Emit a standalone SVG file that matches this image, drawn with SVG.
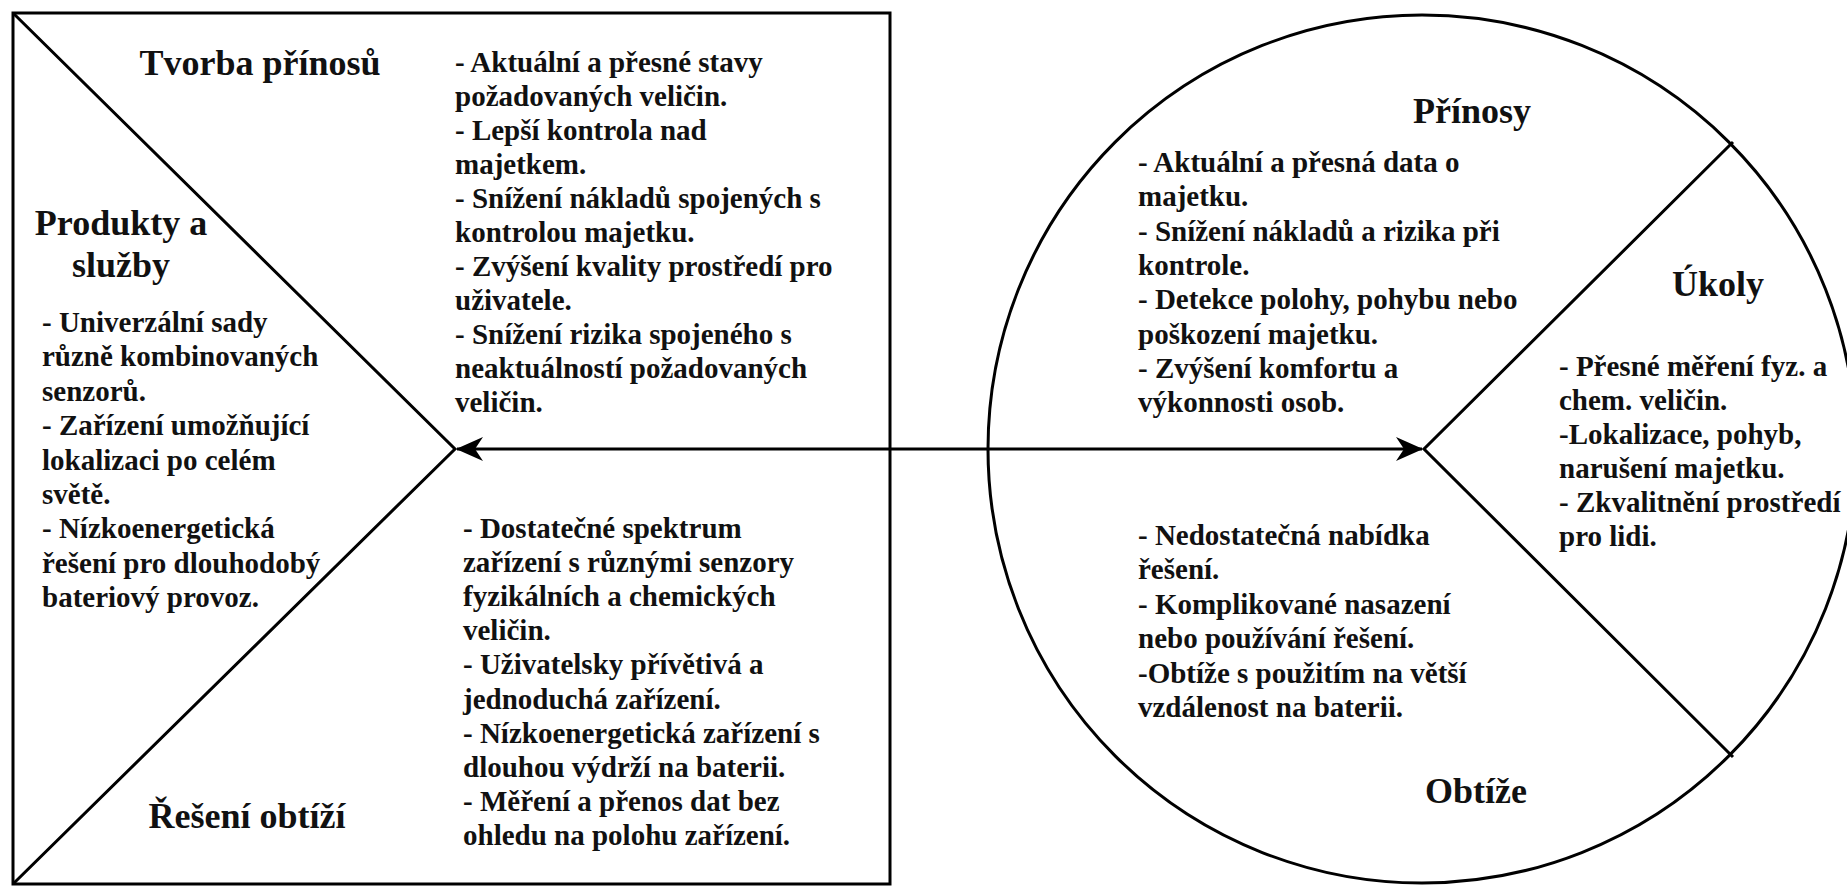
<svg xmlns="http://www.w3.org/2000/svg" width="1847" height="886" viewBox="0 0 1847 886">
  <style>
    .shape { fill: none; stroke: #000; stroke-width: 3; }
    .head { font-family: "Liberation Serif", "Times New Roman", serif; font-weight: bold; font-size: 36px; fill: #111; text-anchor: middle; }
    .body { font-family: "Liberation Serif", "Times New Roman", serif; font-weight: bold; font-size: 29px; fill: #111; }
    .link { fill: none; stroke: #000; stroke-width: 3; }
  </style>
  <defs>
    <marker id="arrow" viewBox="0 0 27 24" markerWidth="27" markerHeight="24" refX="26" refY="12" markerUnits="userSpaceOnUse" orient="auto-start-reverse">
      <path d="M0,0 L27,12 L0,24 L8,12 Z" fill="#000"/>
    </marker>
  </defs>
  <rect width="1847" height="886" fill="#fff"/>

  <!-- Value map: square with chevron -->
  <g id="value-map">
    <rect class="shape" x="13" y="13" width="877" height="871"/>
    <polyline class="shape" points="13,13 455,449 13,884"/>
    <text class="head" x="260" y="75">Tvorba přínosů</text>
    <text class="head"><tspan x="121" y="235">Produkty a</tspan><tspan x="121" y="277">služby</tspan></text>
    <text class="head" x="247" y="828">Řešení obtíží</text>
  </g>

  <g id="gain-creators">
    <text class="body">
      <tspan x="455" y="72">- Aktuální a přesné stavy</tspan>
      <tspan x="455" dy="34">požadovaných veličin.</tspan>
      <tspan x="455" dy="34">- Lepší kontrola nad</tspan>
      <tspan x="455" dy="34">majetkem.</tspan>
      <tspan x="455" dy="34">- Snížení nákladů spojených s</tspan>
      <tspan x="455" dy="34">kontrolou majetku.</tspan>
      <tspan x="455" dy="34">- Zvýšení kvality prostředí pro</tspan>
      <tspan x="455" dy="34">uživatele.</tspan>
      <tspan x="455" dy="34">- Snížení rizika spojeného s</tspan>
      <tspan x="455" dy="34">neaktuálností požadovaných</tspan>
      <tspan x="455" dy="34">veličin.</tspan>
    </text>
  </g>

  <g id="products-services">
    <text class="body">
      <tspan x="42" y="332">- Univerzální sady</tspan>
      <tspan x="42" dy="34.4">různě kombinovaných</tspan>
      <tspan x="42" dy="34.4">senzorů.</tspan>
      <tspan x="42" dy="34.4">- Zařízení umožňující</tspan>
      <tspan x="42" dy="34.4">lokalizaci po celém</tspan>
      <tspan x="42" dy="34.4">světě.</tspan>
      <tspan x="42" dy="34.4">- Nízkoenergetická</tspan>
      <tspan x="42" dy="34.4">řešení pro dlouhodobý</tspan>
      <tspan x="42" dy="34.4">bateriový provoz.</tspan>
    </text>
  </g>

  <g id="pain-relievers">
    <text class="body">
      <tspan x="463" y="538">- Dostatečné spektrum</tspan>
      <tspan x="463" dy="34.1">zařízení s různými senzory</tspan>
      <tspan x="463" dy="34.1">fyzikálních a chemických</tspan>
      <tspan x="463" dy="34.1">veličin.</tspan>
      <tspan x="463" dy="34.1">- Uživatelsky přívětivá a</tspan>
      <tspan x="463" dy="34.1">jednoduchá zařízení.</tspan>
      <tspan x="463" dy="34.1">- Nízkoenergetická zařízení s</tspan>
      <tspan x="463" dy="34.1">dlouhou výdrží na baterii.</tspan>
      <tspan x="463" dy="34.1">- Měření a přenos dat bez</tspan>
      <tspan x="463" dy="34.1">ohledu na polohu zařízení.</tspan>
    </text>
  </g>

  <!-- Customer profile: circle split into three sectors -->
  <g id="customer-profile">
    <circle class="shape" cx="1422" cy="449" r="434"/>
    <polyline class="shape" points="1733,142 1424,449 1733,757"/>
    <text class="head" x="1472" y="123">Přínosy</text>
    <text class="head" x="1718" y="296">Úkoly</text>
    <text class="head" x="1476" y="803">Obtíže</text>
  </g>

  <g id="gains">
    <text class="body">
      <tspan x="1138" y="172">- Aktuální a přesná data o</tspan>
      <tspan x="1138" dy="34.3">majetku.</tspan>
      <tspan x="1138" dy="34.3">- Snížení nákladů a rizika při</tspan>
      <tspan x="1138" dy="34.3">kontrole.</tspan>
      <tspan x="1138" dy="34.3">- Detekce polohy, pohybu nebo</tspan>
      <tspan x="1138" dy="34.3">poškození majetku.</tspan>
      <tspan x="1138" dy="34.3">- Zvýšení komfortu a</tspan>
      <tspan x="1138" dy="34.3">výkonnosti osob.</tspan>
    </text>
  </g>

  <g id="customer-jobs">
    <text class="body">
      <tspan x="1559" y="376">- Přesné měření fyz. a</tspan>
      <tspan x="1559" dy="34">chem. veličin.</tspan>
      <tspan x="1559" dy="34">-Lokalizace, pohyb,</tspan>
      <tspan x="1559" dy="34">narušení majetku.</tspan>
      <tspan x="1559" dy="34">- Zkvalitnění prostředí</tspan>
      <tspan x="1559" dy="34">pro lidi.</tspan>
    </text>
  </g>

  <g id="pains">
    <text class="body">
      <tspan x="1138" y="545">- Nedostatečná nabídka</tspan>
      <tspan x="1138" dy="34.4">řešení.</tspan>
      <tspan x="1138" dy="34.4">- Komplikované nasazení</tspan>
      <tspan x="1138" dy="34.4">nebo používání řešení.</tspan>
      <tspan x="1138" dy="34.4">-Obtíže s použitím na větší</tspan>
      <tspan x="1138" dy="34.4">vzdálenost na baterii.</tspan>
    </text>
  </g>

  <!-- Two-way fit connector -->
  <g id="connectors">
    <line class="link" x1="457" y1="449" x2="1422" y2="449" marker-start="url(#arrow)" marker-end="url(#arrow)"/>
  </g>
</svg>
